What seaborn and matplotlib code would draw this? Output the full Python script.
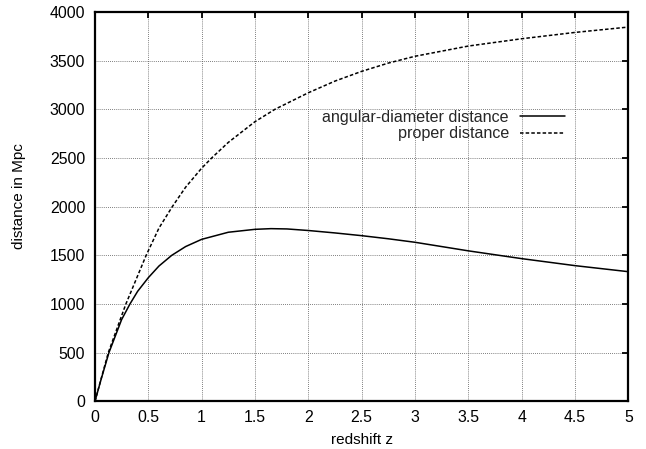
import matplotlib
matplotlib.use("Agg")
import matplotlib.pyplot as plt
import numpy as np
import pandas as pd
import seaborn as sns
from matplotlib.ticker import FuncFormatter

# ── data ─────────────────────────────────────────────────────────────────────
z_ang = [0, 0.06, 0.131, 0.25, 0.328, 0.4, 0.5, 0.6, 0.72, 0.85, 1.0, 1.25, 1.5, 1.65,
         1.8, 2.0, 2.25, 2.5, 2.75, 3.0, 3.5, 4.0, 4.5, 5.0]
d_ang = [0, 235, 500, 840, 1000, 1130, 1270, 1390, 1500, 1590, 1664, 1737, 1767, 1774,
         1771, 1755, 1730, 1702, 1670, 1634, 1546, 1466, 1394, 1332]

z_prop = [0, 0.06, 0.125, 0.25, 0.29, 0.48, 0.6, 0.725, 0.85, 1.0, 1.094, 1.25, 1.5,
          1.687, 2.0, 2.25, 2.5, 2.75, 3.0, 3.5, 4.0, 4.5, 5.0]
d_prop = [0, 240, 500, 880, 1000, 1500, 1780, 2000, 2200, 2395, 2500, 2660, 2873,
          3000, 3170, 3290, 3390, 3475, 3545, 3650, 3725, 3790, 3845]

x_ticks = [0, 0.5, 1, 1.5, 2, 2.5, 3, 3.5, 4, 4.5, 5]
y_ticks = [0, 500, 1000, 1500, 2000, 2500, 3000, 3500, 4000]

# ── style ────────────────────────────────────────────────────────────────────
sns.set_theme(style="white")
plt.rcParams["font.family"] = ["Liberation Sans", "DejaVu Sans"]

fig, ax = plt.subplots(figsize=(6.46, 4.49), dpi=100)
fig.subplots_adjust(left=0.147, right=0.9726, top=0.9733, bottom=0.1062)

ang = pd.DataFrame({"z": z_ang, "d": d_ang})
prop = pd.DataFrame({"z": z_prop, "d": d_prop})

sns.lineplot(data=ang, x="z", y="d", ax=ax, color="black", linewidth=1.1,
             label="angular-diameter distance")
sns.lineplot(data=prop, x="z", y="d", ax=ax, color="black", linewidth=1.1,
             linestyle=(0, (2.3, 1.4)), label="proper distance")

ax.set_xlim(0, 5)
ax.set_ylim(0, 4000)
ax.set_xticks(x_ticks)
ax.set_yticks(y_ticks)
ax.xaxis.set_major_formatter(FuncFormatter(lambda v, _: f"{v:g}"))

ax.grid(True, linestyle=(0, (1, 1.5)), color="#555555", linewidth=0.6)
for s in ax.spines.values():
    s.set_color("black")
    s.set_linewidth(1.6)

ax.tick_params(axis="both", direction="in", length=4, width=1.3, color="black",
               top=True, right=True, labelsize=11.4, labelcolor="black")
ax.tick_params(axis="x", pad=6)
ax.tick_params(axis="y", pad=7)

ax.set_xlabel("redshift z", fontsize=11, color="black", labelpad=6)
ax.set_ylabel("distance in Mpc", fontsize=11, color="black")
ax.yaxis.set_label_coords(-0.13, 0.527)

ax.legend(loc="upper right", bbox_to_anchor=(0.881, 0.748), frameon=False,
          markerfirst=False, handlelength=2.8, handletextpad=0.68,
          labelspacing=0.08, borderpad=0, borderaxespad=0, fontsize=11.6)

plt.savefig("out.png", dpi=100)
plt.close()
